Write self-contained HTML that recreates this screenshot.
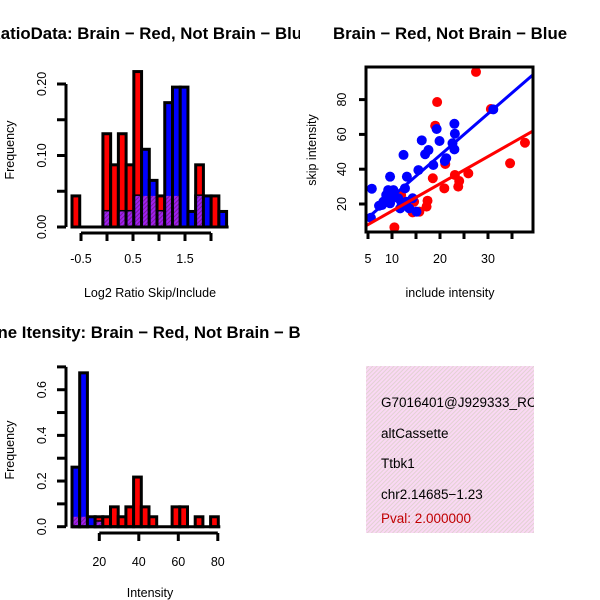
<!DOCTYPE html>
<html><head><meta charset="utf-8"><style>
html,body{margin:0;padding:0;background:#fff;}
svg{display:block;font-family:"Liberation Sans",Arial,sans-serif;}
</style></head><body>
<svg id="chart" width="600" height="600" viewBox="0 0 600 600" xmlns="http://www.w3.org/2000/svg">
<defs>
<pattern id="pinkHatch" width="3" height="3" patternUnits="userSpaceOnUse" patternTransform="rotate(45)">
<rect width="3" height="3" fill="#fad8f4"/><rect width="1" height="3" fill="#e2d2d2"/>
</pattern>
<pattern id="purpHatch" width="3" height="3" patternUnits="userSpaceOnUse" patternTransform="rotate(45)">
<rect width="3" height="3" fill="#a020f0"/><rect width="1" height="3" fill="#7a1a9a"/>
</pattern>
<clipPath id="clipL"><rect x="0" y="0" width="300" height="600"/></clipPath>
<clipPath id="clipBox"><rect x="366" y="366" width="168" height="167"/></clipPath>
<clipPath id="clipSc"><rect x="366" y="67" width="167" height="165"/></clipPath>
</defs>
<g id="p1" clip-path="url(#clipL)"></g>
<g id="p2"></g>
<g id="p3" clip-path="url(#clipL)"></g>
<g id="p4">
<rect x="366" y="366" width="168" height="167" fill="url(#pinkHatch)"/>
<g clip-path="url(#clipBox)" font-size="13.5">
<text x="381" y="407">G7016401@J929333_RC</text>
<text x="381" y="438">altCassette</text>
<text x="381" y="468">Ttbk1</text>
<text x="381" y="499">chr2.14685−1.23</text>
<text x="381" y="523" fill="#c00000">Pval: 2.000000</text>
</g></g>
</svg>
<script>
// ---- data: ratio histogram (counts out of 46) ----
const ratioRed  = [2,0,0,0,6,4,6,4,10,2,2,2,2,2,0,0,4,0,2,0];
const ratioBlue = [0,0,0,0,1,0,1,1,2,5,3,1,8,9,9,1,2,2,0,1];
const ratioN = 46;
const ratioYTicks = [0, 0.05, 0.10, 0.15, 0.20];
const ratioYLabels = ["0.00","","0.10","","0.20"];
const ratioXTicks = [-0.5, 0, 0.5, 1.0, 1.5, 2.0];
const ratioXLabels = ["-0.5","","0.5","","1.5",""];
// ---- data: intensity histogram (counts out of 46) ----
const intRed  = [2,2,0,2,2,4,2,4,10,4,2,0,0,4,4,0,2,0,2];
const intBlue = [12,31,2,1,0,0,0,0,0,0,0,0,0,0,0,0,0,0,0];
const intN = 46;
const intYTicks = [0,0.1,0.2,0.3,0.4,0.5,0.6,0.7];
const intYLabels = ["0.0","","0.2","","0.4","","0.6",""];
const intXTicks = [20,40,60,80];
// ---- data: scatter ----
const redX = [27.5,19.4,19.0,30.6,37.7,34.6,21.1,25.9,23.1,24.0,23.8,20.9,18.5,17.4,17.2,15.7,14.3,14.6,11.9,10.5];
const redY = [95.9,78.6,65,74.6,55.2,43.4,43,37.6,36.7,33.2,30,29,34.8,21.9,18.5,15.6,15.2,21.3,25.2,6.6];
const blueX = [5.8,5.6,7.3,7.9,9.6,12.4,13.1,15.5,16.2,16.9,17.6,18.6,19.3,19.9,21.3,21.0,23.0,23.1,22.6,23.0,31.1,14.3,13.6,15.1,8.2,9.6,10.3,11.3,12.0,11.7,12.7,10.6,13.0,8.8,9.2];
const blueY = [28.8,12.1,19,19.4,35.7,48.2,35.7,39.5,56.6,48.6,51,42.4,63.1,56.2,46.3,44.7,66.1,60.4,54.9,51.4,74.4,23.3,17.5,15.6,21.3,20.4,28,23.3,20.4,17.5,29,24.2,21.3,25.2,28];
const redFit = [0.3, 1.566];
const blueFit = [0.2, 2.39];
const scXTicks = [5,10,15,20,25,30,35];
const scXLabels = ["5","10","","20","","30",""];
const scYTicks = [20,40,60,80];

const NS="http://www.w3.org/2000/svg";
const SW=3;
function mk(parent, tag, attrs, txt){
  const e=document.createElementNS(NS,tag);
  for(const k in attrs) e.setAttribute(k,attrs[k]);
  if(txt!==undefined) e.textContent=txt;
  parent.appendChild(e); return e;
}

// ---------- Panel 1 ----------
(function(){
  const g=document.getElementById('p1');
  const x0=72, bw=7.73, y0=227, ys=v=>y0-v*(143/0.2);
  const xs=v=>107+v*52;
  const tt=mk(g,'text',{x:150,y:39,'text-anchor':'middle','font-size':16.8,'font-weight':'bold'},'RatioData: Brain − Red, Not Brain − Blue');
  
  
  for(let i=0;i<ratioRed.length;i++){
    const r=ratioRed[i]/ratioN, b=ratioBlue[i]/ratioN, x=x0+i*bw;
    if(r>0){const e=mk(g,'rect',{x:x,y:ys(r),width:bw,height:y0-ys(r),fill:'#ff0000',stroke:'#000','stroke-width':SW});
      
      }
    if(b>0){const e=mk(g,'rect',{x:x,y:ys(b),width:bw,height:y0-ys(b),fill:'#0000ff',stroke:'#000','stroke-width':SW});
      
      }
    const m=Math.min(r,b);
    if(m>0){const e=mk(g,'rect',{x:x+1.5,y:ys(m),width:bw-3,height:y0-ys(m)-1.5,fill:'url(#purpHatch)'});
      
      }
  }
  mk(g,'line',{x1:x0,y1:y0,x2:x0+ratioRed.length*bw+2,y2:y0,stroke:'#000','stroke-width':SW});
  mk(g,'line',{x1:66,y1:ys(0),x2:66,y2:ys(0.2),stroke:'#000','stroke-width':SW});
  ratioYTicks.forEach((v,i)=>{
    mk(g,'line',{x1:57,y1:ys(v),x2:66,y2:ys(v),stroke:'#000','stroke-width':SW});
    if(ratioYLabels[i]){const t=mk(g,'text',{x:46,y:ys(v),'text-anchor':'middle','font-size':12.5,transform:`rotate(-90 46 ${ys(v)})`},ratioYLabels[i]);
      
      }
  });
  mk(g,'line',{x1:xs(-0.5),y1:233,x2:xs(2),y2:233,stroke:'#000','stroke-width':SW});
  ratioXTicks.forEach((v,i)=>{
    mk(g,'line',{x1:xs(v),y1:233,x2:xs(v),y2:241,stroke:'#000','stroke-width':SW});
    if(ratioXLabels[i]){const t=mk(g,'text',{x:xs(v),y:263,'text-anchor':'middle','font-size':12.5},ratioXLabels[i]);
      
      }
  });
  const yl=mk(g,'text',{x:14,y:150,'text-anchor':'middle','font-size':12.5,transform:'rotate(-90 14 150)'},'Frequency');
  
  
  const xl=mk(g,'text',{x:150,y:297,'text-anchor':'middle','font-size':12.5},'Log2 Ratio Skip/Include');
  
  
})();

// ---------- Panel 2 ----------
(function(){
  const g=document.getElementById('p2');
  const xs=v=>368+(v-5)*4.8, ys=v=>204-(v-20)*1.74;
  const L=366,R=533,T=67,B=232;
  const tt=mk(g,'text',{x:450,y:39,'text-anchor':'middle','font-size':16.8,'font-weight':'bold'},'Brain − Red, Not Brain − Blue');
  
  
  const cg=mk(g,'g',{'clip-path':'url(#clipSc)'});
  redX.forEach((x,i)=>{const c=mk(cg,'circle',{cx:xs(x),cy:ys(redY[i]),r:5,fill:'#ff0000'});
    
    });
  blueX.forEach((x,i)=>{const c=mk(cg,'circle',{cx:xs(x),cy:ys(blueY[i]),r:5,fill:'#0000ff'});
    
    });
  const xa=4.6, xb=39.6;
  const rl=mk(cg,'line',{x1:xs(xa),y1:ys(redFit[0]+redFit[1]*xa),x2:xs(xb),y2:ys(redFit[0]+redFit[1]*xb),stroke:'#ff0000','stroke-width':3});
  
  
  const bl=mk(cg,'line',{x1:xs(xa),y1:ys(blueFit[0]+blueFit[1]*xa),x2:xs(xb),y2:ys(blueFit[0]+blueFit[1]*xb),stroke:'#0000ff','stroke-width':3});
  
  
  mk(g,'rect',{x:L,y:T,width:R-L,height:B-T,fill:'none',stroke:'#000','stroke-width':SW});
  scXTicks.forEach((v,i)=>{
    mk(g,'line',{x1:xs(v),y1:B,x2:xs(v),y2:B+7,stroke:'#000','stroke-width':SW});
    if(scXLabels[i]){const t=mk(g,'text',{x:xs(v),y:263,'text-anchor':'middle','font-size':12.5},scXLabels[i]);
      
      }
  });
  scYTicks.forEach(v=>{
    mk(g,'line',{x1:L-7,y1:ys(v),x2:L,y2:ys(v),stroke:'#000','stroke-width':SW});
    const t=mk(g,'text',{x:346,y:ys(v),'text-anchor':'middle','font-size':12.5,transform:`rotate(-90 346 ${ys(v)})`},String(v));
    
    
  });
  const yl=mk(g,'text',{x:316,y:150,'text-anchor':'middle','font-size':12.5,transform:'rotate(-90 316 150)'},'skip intensity');
  
  
  const xl=mk(g,'text',{x:450,y:297,'text-anchor':'middle','font-size':12.5},'include intensity');
  
  
})();

// ---------- Panel 3 ----------
(function(){
  const g=document.getElementById('p3');
  const x0=72, bw=7.7, y0=526.7, ys=v=>y0-v*228.3;
  const xs=v=>99.3+(v-20)*1.975;
  const tt=mk(g,'text',{x:150,y:338,'text-anchor':'middle','font-size':16.8,'font-weight':'bold'},'Gene Itensity: Brain − Red, Not Brain − Blue');
  
  
  for(let i=0;i<intRed.length;i++){
    const r=intRed[i]/intN, b=intBlue[i]/intN, x=x0+i*bw;
    if(r>0){const e=mk(g,'rect',{x:x,y:ys(r),width:bw,height:y0-ys(r),fill:'#ff0000',stroke:'#000','stroke-width':SW});
      
      }
    if(b>0){const e=mk(g,'rect',{x:x,y:ys(b),width:bw,height:y0-ys(b),fill:'#0000ff',stroke:'#000','stroke-width':SW});
      
      }
    const m=Math.min(r,b);
    if(m>0){const e=mk(g,'rect',{x:x+1.5,y:ys(m),width:bw-3,height:y0-ys(m)-1.5,fill:'url(#purpHatch)'});
      
      }
  }
  mk(g,'line',{x1:x0,y1:y0,x2:x0+intRed.length*bw+2,y2:y0,stroke:'#000','stroke-width':SW});
  mk(g,'line',{x1:66,y1:ys(0),x2:66,y2:ys(0.7),stroke:'#000','stroke-width':SW});
  intYTicks.forEach((v,i)=>{
    mk(g,'line',{x1:57,y1:ys(v),x2:66,y2:ys(v),stroke:'#000','stroke-width':SW});
    if(intYLabels[i]){const t=mk(g,'text',{x:46,y:ys(v),'text-anchor':'middle','font-size':12.5,transform:`rotate(-90 46 ${ys(v)})`},intYLabels[i]);
      
      }
  });
  mk(g,'line',{x1:xs(20),y1:533,x2:xs(80),y2:533,stroke:'#000','stroke-width':SW});
  intXTicks.forEach(v=>{
    mk(g,'line',{x1:xs(v),y1:533,x2:xs(v),y2:541,stroke:'#000','stroke-width':SW});
    const t=mk(g,'text',{x:xs(v),y:566,'text-anchor':'middle','font-size':12.5},String(v));
    
    
  });
  const yl=mk(g,'text',{x:14,y:450,'text-anchor':'middle','font-size':12.5,transform:'rotate(-90 14 450)'},'Frequency');
  
  
  const xl=mk(g,'text',{x:150,y:597,'text-anchor':'middle','font-size':12.5},'Intensity');
  
  
})();
</script>
</body></html>
